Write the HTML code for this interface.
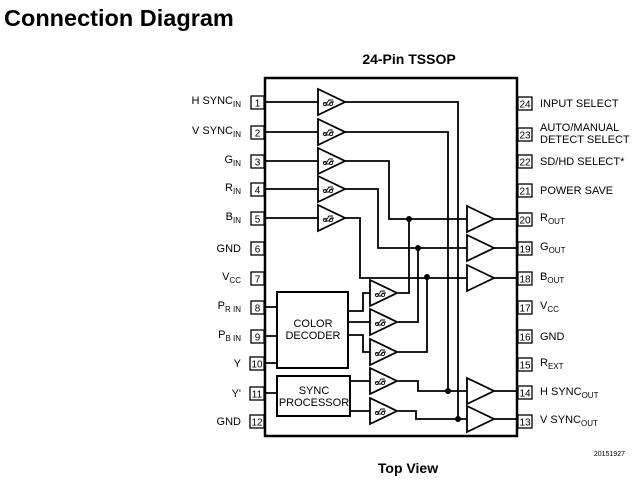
<!DOCTYPE html>
<html><head><style>
body{margin:0;background:#fff;width:641px;height:484px;overflow:hidden;font-family:"Liberation Sans",Arial,sans-serif}
</style></head><body>
<svg width="641" height="484" viewBox="0 0 641 484" xmlns="http://www.w3.org/2000/svg" font-family="Liberation Sans, Arial, sans-serif">
<defs>
<g id="buf"><path d="M0,-13 L27,0 L0,13 Z" fill="#fff" stroke="#000" stroke-width="1.8"/><path d="M5,1 h4 l2,-3 h4 M7,3 h4 l2,-3 h3" fill="none" stroke="#000" stroke-width="0.9"/><circle cx="7" cy="2" r="1.6" fill="none" stroke="#000" stroke-width="0.8"/><circle cx="13" cy="2" r="1.6" fill="none" stroke="#000" stroke-width="0.8"/></g>
<g id="ob"><path d="M0,-13 L27,0 L0,13 Z" fill="#fff" stroke="#000" stroke-width="1.8"/></g>
</defs>
<text x="4" y="26" font-size="23.5" font-weight="bold">Connection Diagram</text>
<text x="409" y="64" font-size="14" font-weight="bold" text-anchor="middle">24-Pin TSSOP</text>
<text x="408" y="473" font-size="14" font-weight="bold" text-anchor="middle">Top View</text>
<text x="625" y="456" font-size="7" text-anchor="end">20151927</text>
<rect x="265" y="78" width="252" height="358" fill="none" stroke="#000" stroke-width="2.5"/>
<g fill="none" stroke="#000" stroke-width="1.8">
<path d="M265,102H318 M265,132H318 M265,161H318 M265,189H318 M265,218H318"/>
<path d="M345,102H458V419H467 M345,132H448V391H467 M345,161H389V219H467 M345,189H378V248H467 M345,218H360V278H467"/>
<path d="M409,219V293H398 M418,248V322H398 M427,278V352H398"/>
<path d="M265,307H277 M265,336H277 M265,363H277 M265,393H277"/>
<path d="M348,311H363V293H370 M348,322H370 M348,335H363V352H370"/>
<path d="M350,381H370 M350,411H370 M398,381H418V391H448 M398,411H416V419H458"/>
<path d="M494,219H517 M494,248H517 M494,278H517 M494,391H517 M494,419H517"/>
</g>
<g fill="#000"><circle cx="409" cy="219" r="3"/><circle cx="418" cy="248" r="3"/><circle cx="427" cy="277" r="3"/><circle cx="448" cy="391" r="3"/><circle cx="458" cy="419" r="3"/></g>
<rect x="277" y="292" width="71" height="76" fill="#fff" stroke="#000" stroke-width="2"/>
<rect x="277" y="376" width="73" height="40" fill="#fff" stroke="#000" stroke-width="2"/>
<g font-size="11" text-anchor="middle"><text x="313" y="327">COLOR</text><text x="313" y="339">DECODER</text><text x="314" y="394">SYNC</text><text x="314" y="406">PROCESSOR</text></g>
<use href="#buf" x="318" y="102"/><use href="#buf" x="318" y="132"/><use href="#buf" x="318" y="161"/><use href="#buf" x="318" y="189"/><use href="#buf" x="318" y="218"/>
<use href="#buf" x="370" y="293"/><use href="#buf" x="370" y="322"/><use href="#buf" x="370" y="352"/><use href="#buf" x="370" y="381"/><use href="#buf" x="370" y="411"/>
<use href="#ob" x="467" y="219"/><use href="#ob" x="467" y="248"/><use href="#ob" x="467" y="278"/><use href="#ob" x="467" y="391"/><use href="#ob" x="467" y="419"/>
<g fill="#fff" stroke="#000" stroke-width="1.3">
<rect x="251" y="96" width="13" height="13"/><rect x="251" y="126" width="13" height="13"/><rect x="251" y="155" width="13" height="13"/><rect x="251" y="183" width="13" height="13"/><rect x="251" y="212" width="13" height="13"/><rect x="251" y="242" width="13" height="13"/><rect x="251" y="272" width="13" height="13"/><rect x="251" y="301" width="13" height="13"/><rect x="251" y="330" width="13" height="13"/><rect x="250" y="357" width="14" height="13"/><rect x="250" y="387" width="14" height="13"/><rect x="250" y="415" width="14" height="13"/>
<rect x="518" y="97" width="14" height="13"/><rect x="518" y="128" width="14" height="13"/><rect x="518" y="155" width="14" height="13"/><rect x="518" y="184" width="14" height="13"/><rect x="518" y="213" width="14" height="13"/><rect x="518" y="242" width="14" height="13"/><rect x="518" y="272" width="14" height="13"/><rect x="518" y="301" width="14" height="13"/><rect x="518" y="330" width="14" height="13"/><rect x="518" y="358" width="14" height="13"/><rect x="518" y="386" width="14" height="13"/><rect x="518" y="415" width="14" height="13"/>
</g>
<g font-size="10" text-anchor="middle">
<text x="257.5" y="106.5">1</text><text x="257.5" y="136.5">2</text><text x="257.5" y="165.5">3</text><text x="257.5" y="193.5">4</text><text x="257.5" y="222.5">5</text><text x="257.5" y="252.5">6</text><text x="257.5" y="282.5">7</text><text x="257.5" y="311.5">8</text><text x="257.5" y="340.5">9</text><text x="257" y="367.5">10</text><text x="257" y="397.5">11</text><text x="257" y="425.5">12</text>
<text x="525" y="107.5">24</text><text x="525" y="138.5">23</text><text x="525" y="165.5">22</text><text x="525" y="194.5">21</text><text x="525" y="223.5">20</text><text x="525" y="252.5">19</text><text x="525" y="282.5">18</text><text x="525" y="311.5">17</text><text x="525" y="340.5">16</text><text x="525" y="368.5">15</text><text x="525" y="396.5">14</text><text x="525" y="425.5">13</text>
</g>
<g font-size="11" text-anchor="end">
<text x="241" y="104">H SYNC<tspan font-size="8" dy="3">IN</tspan></text>
<text x="241" y="134">V SYNC<tspan font-size="8" dy="3">IN</tspan></text>
<text x="241" y="163">G<tspan font-size="8" dy="3">IN</tspan></text>
<text x="241" y="191">R<tspan font-size="8" dy="3">IN</tspan></text>
<text x="241" y="220">B<tspan font-size="8" dy="3">IN</tspan></text>
<text x="241" y="252">GND</text>
<text x="241" y="280">V<tspan font-size="8" dy="3">CC</tspan></text>
<text x="241" y="309">P<tspan font-size="8" dy="3">R IN</tspan></text>
<text x="241" y="338">P<tspan font-size="8" dy="3">B IN</tspan></text>
<text x="241" y="367">Y</text>
<text x="241" y="397">Y'</text>
<text x="241" y="425">GND</text>
</g>
<g font-size="11">
<text x="540" y="107">INPUT SELECT</text>
<text x="540" y="131">AUTO/MANUAL</text><text x="540" y="143">DETECT SELECT</text>
<text x="540" y="165">SD/HD SELECT*</text>
<text x="540" y="194">POWER SAVE</text>
<text x="540" y="221">R<tspan font-size="8" dy="3">OUT</tspan></text>
<text x="540" y="250">G<tspan font-size="8" dy="3">OUT</tspan></text>
<text x="540" y="280">B<tspan font-size="8" dy="3">OUT</tspan></text>
<text x="540" y="309">V<tspan font-size="8" dy="3">CC</tspan></text>
<text x="540" y="340">GND</text>
<text x="540" y="366">R<tspan font-size="8" dy="3">EXT</tspan></text>
<text x="540" y="395">H SYNC<tspan font-size="8" dy="3">OUT</tspan></text>
<text x="540" y="423">V SYNC<tspan font-size="8" dy="3">OUT</tspan></text>
</g>
</svg>
</body></html>
